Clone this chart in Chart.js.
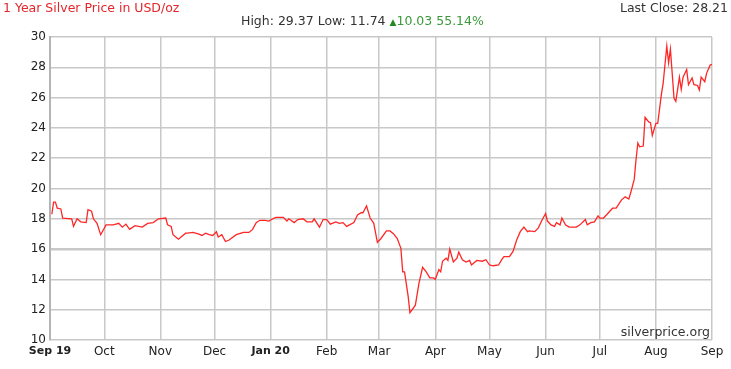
<!DOCTYPE html>
<html>
<head>
<meta charset="utf-8">
<script src="https://cdn.jsdelivr.net/npm/chart.js@4.4.1/dist/chart.umd.min.js"></script>
<style>
  html, body { margin: 0; padding: 0; background: #fff; }
  #wrap { position: relative; width: 731px; height: 369px; font-family: "DejaVu Sans", sans-serif; }
  #grafica { position: absolute; left: 0; top: 0; }
  .hdr { position: absolute; font-size: 12.5px; line-height: 14px; white-space: nowrap; }
  #titulo { left: 3px; top: 1px; color: #e3262b; }
  #cierre { right: 3px; top: 1px; color: #333; }
  #rango { left: 241px; top: 14px; color: #333; }
  #rango .up { color: #3a9a3a; }
  #rango .tri { color: #1f8a1f; font-size: 9px; }
</style>
</head>
<body>
<div id="wrap">
  <canvas id="grafica" width="731" height="369"></canvas>
  <div class="hdr" id="titulo">1 Year Silver Price in USD/oz</div>
  <div class="hdr" id="cierre">Last Close: 28.21</div>
  <div class="hdr" id="rango">High: 29.37 Low: 11.74 <span class="up"><span class="tri">▲</span>10.03 55.14%</span></div>
</div>
<script>
// ─── DATOS ────────────────────────────────────────────────────────────────
// días desde el 1 de septiembre de 2019
const days = [
  1, 2, 3, 4, 6, 7, 12, 13, 15, 17, 20, 21, 23, 24, 26, 28,
  31, 35, 38, 40, 42, 44, 47, 51, 54, 57, 60, 64, 65, 67, 68, 71,
  75, 76, 79, 82, 84, 86, 88, 90, 92, 93, 95, 97, 99, 103, 107, 110,
  112, 114, 116, 119, 121, 124, 125, 129, 131, 132, 135, 137, 140, 142, 145, 146,
  149, 151, 153, 155, 158, 160, 162, 164, 168, 170, 172, 173, 175, 177, 179, 181,
  183, 186, 188, 190, 192, 194, 195, 196, 198, 199, 202, 204, 206, 208, 210, 212,
  213, 215, 216, 217, 219, 220, 221, 223, 225, 226, 228, 230, 232, 233, 236, 239,
  241, 243, 245, 248, 250, 251, 254, 256, 258, 260, 262, 264, 265, 268, 270, 272,
  274, 275, 277, 279, 280, 282, 283, 285, 287, 291, 293, 296, 297, 299, 301, 303,
  304, 306, 308, 311, 313, 316, 318, 320, 321, 323, 324, 325, 326, 328, 329, 331,
  332, 333, 335, 336, 338, 339, 341, 342, 343, 344, 345, 346, 348, 349, 350, 352,
  353, 355, 356, 358, 359, 360, 362, 363, 365, 366
];

const prices = [
  18.3, 19.1, 19.1, 18.7, 18.65, 18.05, 18.0, 17.5, 18.0, 17.8, 17.75, 18.6, 18.5, 18.0, 17.7, 16.95,
  17.6, 17.6, 17.7, 17.45, 17.65, 17.3, 17.55, 17.45, 17.7, 17.75, 18.0, 18.05, 17.6, 17.5, 16.95, 16.65,
  17.05, 17.05, 17.1, 17.0, 16.9, 17.05, 16.95, 16.9, 17.15, 16.8, 16.95, 16.5, 16.6, 16.95, 17.1, 17.1,
  17.3, 17.75, 17.9, 17.9, 17.85, 18.05, 18.1, 18.1, 17.85, 18.0, 17.75, 17.95, 18.0, 17.8, 17.8, 18.0,
  17.45, 17.95, 17.95, 17.65, 17.8, 17.7, 17.75, 17.5, 17.75, 18.25, 18.4, 18.4, 18.85, 18.05, 17.7, 16.45,
  16.7, 17.2, 17.2, 17.0, 16.7, 16.05, 14.5, 14.5, 12.9, 11.8, 12.3, 13.75, 14.8, 14.5, 14.1, 14.1,
  14.0, 14.65, 14.5, 15.2, 15.4, 15.25, 16.0, 15.15, 15.4, 15.8, 15.3, 15.15, 15.25, 14.95, 15.25, 15.2,
  15.3, 14.95, 14.9, 14.95, 15.35, 15.5, 15.5, 15.85, 16.6, 17.15, 17.45, 17.15, 17.2, 17.15, 17.4, 17.9,
  18.35, 17.85, 17.6, 17.5, 17.75, 17.6, 18.05, 17.6, 17.45, 17.45, 17.6, 17.95, 17.6, 17.75, 17.8, 18.2,
  18.05, 18.05, 18.3, 18.7, 18.7, 19.25, 19.45, 19.3, 19.7, 20.6, 21.9, 23.0, 22.75, 22.8, 24.7, 24.4,
  24.35, 23.5, 24.3, 24.3, 26.2, 26.95, 29.4, 28.3, 29.2, 27.6, 25.95, 25.75, 27.35, 26.55, 27.35, 27.85,
  26.85, 27.3, 26.85, 26.8, 26.5, 27.35, 27.05, 27.6, 28.15, 28.2
];

// inicio de cada mes (días desde 1 sep 2019) y sus etiquetas
const monthDays = [0, 30, 61, 91, 122, 153, 182, 213, 243, 274, 304, 335, 366];
const monthLabels = ['Sep 19', 'Oct', 'Nov', 'Dec', 'Jan 20', 'Feb', 'Mar', 'Apr', 'May', 'Jun', 'Jul', 'Aug', 'Sep'];
const boldLabels = ['Sep 19', 'Jan 20'];

const yTicks = [10, 12, 14, 16, 18, 20, 22, 24, 26, 28, 30];

// ─── MARCA DE AGUA ────────────────────────────────────────────────────────
const marca = {
  id: 'marca',
  afterDatasetsDraw(c) {
    const ctx = c.ctx, a = c.chartArea;
    ctx.save();
    ctx.font = '12.5px "DejaVu Sans", sans-serif';
    ctx.fillStyle = '#333';
    ctx.textAlign = 'right';
    ctx.textBaseline = 'alphabetic';
    ctx.fillText('silverprice.org', a.right - 2, a.bottom - 4);
    ctx.restore();
  }
};

// ─── GRÁFICA ──────────────────────────────────────────────────────────────
const puntos = days.map((d, i) => ({ x: d, y: prices[i] }));

new Chart(document.getElementById('grafica'), {
  type: 'line',
  data: {
    datasets: [{
      data: puntos,
      borderColor: '#ff2626',
      borderWidth: 1.3,
      pointRadius: 0,
      tension: 0
    }]
  },
  options: {
    responsive: false,
    animation: false,
    events: [],
    layout: { padding: { top: 37, right: 19, left: 0, bottom: 0 } },
    plugins: {
      legend: { display: false },
      tooltip: { enabled: false }
    },
    scales: {
      x: {
        type: 'linear',
        min: 0,
        max: 366,
        afterBuildTicks: s => { s.ticks = monthDays.map(v => ({ value: v })); },
        afterFit: s => { s.height = 29; },
        grid: { color: '#c8c8c8', lineWidth: 1.5, drawTicks: false },
        border: { display: false },
        ticks: {
          padding: 5,
          autoSkip: false,
          maxRotation: 0,
          color: '#222',
          callback: (v, i) => monthLabels[i],
          font: ctx => boldLabels.includes(monthLabels[ctx.index])
            ? { family: '"DejaVu Sans", sans-serif', size: 11, weight: 'bold' }
            : { family: '"DejaVu Sans", sans-serif', size: 12 }
        }
      },
      y: {
        min: 10,
        max: 30,
        afterBuildTicks: s => { s.ticks = yTicks.map(v => ({ value: v })); },
        afterFit: s => { s.width = 50; },
        grid: {
          color: '#c8c8c8',
          lineWidth: ctx => ctx.tick && ctx.tick.value === 16 ? 2.5 : 1.5,
          drawTicks: false
        },
        border: { color: '#b4b4b4', width: 2 },
        ticks: {
          padding: 4,
          color: '#222',
          font: { family: '"DejaVu Sans", sans-serif', size: 12 }
        }
      }
    }
  },
  plugins: [marca]
});
</script>
</body>
</html>
